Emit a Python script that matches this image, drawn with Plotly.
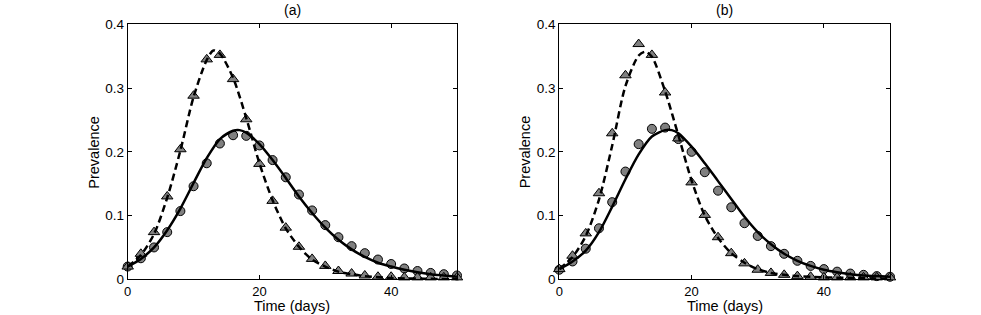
import plotly.graph_objects as go

W, H = 981, 315

# ---------------- data ----------------
t_obs = list(range(0, 51, 2))

# Panel (a)
a_circles = [0.020, 0.033, 0.050, 0.074, 0.107, 0.146, 0.182, 0.213, 0.226, 0.225,
             0.210, 0.187, 0.160, 0.133, 0.108, 0.085, 0.066, 0.052, 0.041, 0.031,
             0.024, 0.017, 0.013, 0.010, 0.008, 0.006]
a_triangles = [0.020, 0.040, 0.074, 0.130, 0.204, 0.288, 0.345, 0.352, 0.314, 0.251,
               0.181, 0.123, 0.081, 0.051, 0.032, 0.021, 0.013, 0.009, 0.006, 0.004,
               0.004, 0.003, 0.003, 0.003, 0.003, 0.003]
a_t_curve = [0, 2, 4, 6, 8, 10, 12, 14, 16, 17, 18, 20, 22, 24, 26, 28, 30, 32, 34, 36,
             38, 40, 42, 44, 46, 48, 50]
a_solid = [0.020, 0.032, 0.050, 0.077, 0.111, 0.151, 0.190, 0.220, 0.233, 0.234, 0.230,
           0.212, 0.187, 0.159, 0.130, 0.104, 0.081, 0.062, 0.047, 0.035, 0.026, 0.020,
           0.015, 0.011, 0.008, 0.006, 0.004]
a_t_dash = [0, 2, 4, 6, 8, 10, 12, 13, 14, 16, 18, 20, 22, 24, 26, 28, 30, 32, 34, 36,
            40, 45, 50]
a_dash = [0.020, 0.038, 0.071, 0.128, 0.202, 0.286, 0.344, 0.359, 0.354, 0.316, 0.253,
          0.182, 0.124, 0.080, 0.051, 0.031, 0.020, 0.012, 0.008, 0.005, 0.002, 0.001,
          0.000]

# Panel (b)
b_circles = [0.015, 0.028, 0.048, 0.080, 0.121, 0.169, 0.212, 0.236, 0.238, 0.220,
             0.200, 0.168, 0.139, 0.113, 0.088, 0.068, 0.052, 0.040, 0.029, 0.021,
             0.016, 0.012, 0.009, 0.007, 0.005, 0.004]
b_triangles = [0.016, 0.037, 0.072, 0.135, 0.229, 0.320, 0.369, 0.352, 0.293, 0.221,
               0.152, 0.101, 0.066, 0.041, 0.025, 0.015, 0.010, 0.007, 0.005, 0.004,
               0.003, 0.003, 0.003, 0.003, 0.003, 0.003]
b_t_curve = [0, 2, 4, 6, 8, 10, 12, 14, 16, 17, 18, 20, 22, 24, 26, 28, 30, 32, 34, 36,
             38, 40, 42, 44, 46, 48, 50]
b_solid = [0.016, 0.028, 0.045, 0.074, 0.114, 0.157, 0.196, 0.224, 0.234, 0.234, 0.229,
           0.208, 0.182, 0.154, 0.126, 0.098, 0.074, 0.055, 0.040, 0.029, 0.021, 0.015,
           0.011, 0.008, 0.006, 0.005, 0.004]
b_t_dash = [0, 2, 4, 6, 8, 10, 12, 13, 14, 16, 18, 20, 22, 24, 26, 28, 30, 32, 34, 36,
            40, 45, 50]
b_dash = [0.016, 0.035, 0.068, 0.125, 0.210, 0.303, 0.351, 0.357, 0.349, 0.295, 0.226,
          0.155, 0.100, 0.065, 0.041, 0.026, 0.016, 0.010, 0.007, 0.005, 0.003, 0.002,
          0.001]

x_ticks = [0, 20, 40]
y_ticks = [0, 0.1, 0.2, 0.3, 0.4]
y_ticktext = ["0", "0.1", "0.2", "0.3", "0.4"]

# ---------------- figure ----------------
FONT = "Liberation Sans, Arial, Helvetica, sans-serif"
GRAY = "#808080"

fig = go.Figure()


def add_panel(xa, ya, circ, tri, tc, solid, td, dash):
    fig.add_trace(go.Scatter(x=t_obs, y=circ, mode="markers", xaxis=xa, yaxis=ya,
                             marker=dict(symbol="circle", size=9, color=GRAY,
                                         line=dict(color="black", width=1)),
                             showlegend=False, cliponaxis=False))
    fig.add_trace(go.Scatter(x=t_obs, y=tri, mode="markers", xaxis=xa, yaxis=ya,
                             marker=dict(symbol="triangle-up", size=10, color=GRAY,
                                         line=dict(color="black", width=1)),
                             showlegend=False, cliponaxis=False))
    fig.add_trace(go.Scatter(x=tc, y=solid, mode="lines", xaxis=xa, yaxis=ya,
                             line=dict(color="black", width=2.5, shape="spline", smoothing=0.8),
                             showlegend=False))
    fig.add_trace(go.Scatter(x=td, y=dash, mode="lines", xaxis=xa, yaxis=ya,
                             line=dict(color="black", width=2.5, dash="7px,4px",
                                       shape="spline", smoothing=0.8),
                             showlegend=False))


add_panel("x", "y", a_circles, a_triangles, a_t_curve, a_solid, a_t_dash, a_dash)
add_panel("x2", "y2", b_circles, b_triangles, b_t_curve, b_solid, b_t_dash, b_dash)

# pixel geometry
ax_l = (127.7, 457.0)
ax_r = (559.3, 890.0)
y_top, y_bot = 24.3, 279.3
ydom = [1 - y_bot / H, 1 - y_top / H]

axis_common = dict(showline=True, linecolor="black", linewidth=1, mirror="ticks",
                   ticks="inside", ticklen=4, tickcolor="black", showgrid=False,
                   zeroline=False)
yfont = dict(family=FONT, size=13.5, color="black")
xfont = dict(family=FONT, size=13, color="black")

fig.update_layout(
    width=W, height=H,
    margin=dict(l=0, r=0, t=0, b=0, autoexpand=False),
    paper_bgcolor="white", plot_bgcolor="white",
    xaxis=dict(domain=[ax_l[0] / W, ax_l[1] / W], range=[0, 50], tickvals=x_ticks,
               anchor="y", tickfont=xfont, **axis_common),
    yaxis=dict(domain=ydom, range=[0, 0.4], tickvals=y_ticks, ticktext=y_ticktext,
               anchor="x", tickfont=yfont, **axis_common),
    xaxis2=dict(domain=[ax_r[0] / W, ax_r[1] / W], range=[0, 50], tickvals=x_ticks,
                anchor="y2", tickfont=xfont, **axis_common),
    yaxis2=dict(domain=ydom, range=[0, 0.4], tickvals=y_ticks, ticktext=y_ticktext,
                anchor="x2", tickfont=yfont, **axis_common),
)

annots = []
for (l, r), title in [(ax_l, "(a)"), (ax_r, "(b)")]:
    cx = (l + r) / 2 / W
    annots.append(dict(text=title, x=cx, y=1 - 9.5 / H, xref="paper", yref="paper",
                       showarrow=False, font=dict(family=FONT, size=14, color="black"),
                       xanchor="center", yanchor="middle"))
    annots.append(dict(text="Time (days)", x=cx, y=1 - 306 / H, xref="paper", yref="paper",
                       showarrow=False, font=dict(family=FONT, size=14.5, color="black"),
                       xanchor="center", yanchor="middle"))
    annots.append(dict(text="Prevalence", x=(l - 34) / W, y=1 - 152 / H, xref="paper",
                       yref="paper", showarrow=False, textangle=-90,
                       font=dict(family=FONT, size=14.5, color="black"),
                       xanchor="center", yanchor="middle"))
fig.update_layout(annotations=annots)

fig.write_html("out.html",
               config={"displayModeBar": False},
               post_script="document.body.style.margin='0px';"
                           "document.body.style.overflow='hidden';")
